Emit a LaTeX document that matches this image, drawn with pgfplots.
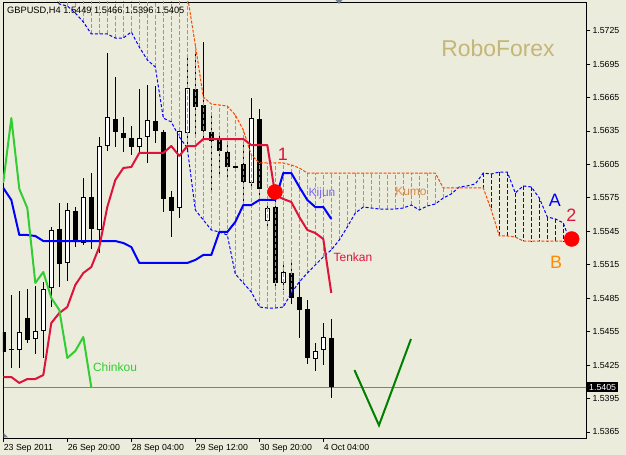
\documentclass[border=0pt]{standalone}
\usepackage{fontspec}
\setmainfont{Liberation Sans}
\usepackage{pgfplots}
\pgfplotsset{compat=1.18}
\usepackage{pgfplotstable}

\definecolor{bgc}{RGB}{236,236,220}
\definecolor{tenkanc}{RGB}{220,20,60}
\definecolor{kijunc}{RGB}{0,0,255}
\definecolor{chinkouc}{RGB}{50,205,50}
\definecolor{spanbc}{RGB}{255,69,0}
\definecolor{hatcho}{RGB}{244,118,80}
\definecolor{robo}{RGB}{196,182,118}
\definecolor{kijunlbl}{RGB}{123,104,238}
\definecolor{kumolbl}{RGB}{210,140,80}
\definecolor{vgreen}{RGB}{0,128,0}
\definecolor{pricegray}{RGB}{128,128,128}
\definecolor{bcol}{RGB}{255,140,0}
\definecolor{markgray}{RGB}{112,128,144}

\pgfplotsset{
  bars/.style={forget plot, only marks, mark=*, mark size=0pt,
    mark options={draw=none, fill=none},
    error bars/y dir=both, error bars/y explicit, error bars/error mark=none},
  ebs/.style={error bars/error bar style={#1}},
}

% i open high low close type(1=bull)
\pgfplotstableread{
i o h l c t
0 1.54547 1.54717 1.53847 1.54368 0
1 1.54394 1.54879 1.54224 1.54386 0
2 1.54386 1.54915 1.54224 1.54547 1
3 1.54673 1.54933 1.54448 1.54475 0
4 1.54484 1.54960 1.54350 1.54556 1
5 1.54556 1.54996 1.54314 1.54933 1
6 1.54942 1.55489 1.54771 1.55462 1
7 1.55471 1.55704 1.54951 1.55157 0
8 1.55166 1.55704 1.55004 1.55641 1
9 1.55632 1.55668 1.55309 1.55354 0
10 1.55345 1.55928 1.55327 1.55758 1
11 1.55758 1.55973 1.55291 1.55471 0
12 1.55462 1.56296 1.55256 1.56215 1
13 1.56215 1.57050 1.56170 1.56475 1
14 1.56458 1.56834 1.56206 1.56341 0
15 1.56332 1.56475 1.56162 1.56287 0
16 1.56287 1.56395 1.56135 1.56206 0
17 1.56206 1.56727 1.56162 1.56287 1
18 1.56296 1.56763 1.56063 1.56449 1
19 1.56440 1.56754 1.56242 1.56350 0
20 1.56341 1.56359 1.55623 1.55740 0
21 1.55758 1.55812 1.55399 1.55632 0
22 1.55659 1.56377 1.55570 1.56350 1
23 1.56332 1.57014 1.56162 1.56736 1
24 1.56727 1.57068 1.56287 1.56565 0
25 1.56583 1.57148 1.56269 1.56350 0
26 1.56341 1.56493 1.55794 1.56260 0
27 1.56278 1.56305 1.55928 1.56170 0
28 1.56162 1.56242 1.55910 1.56027 0
29 1.56036 1.56072 1.55982 1.56027 0
30 1.56054 1.56251 1.55704 1.55892 0
31 1.55883 1.56646 1.55821 1.56466 1
32 1.56458 1.56547 1.55776 1.55830 0
33 1.55543 1.55686 1.55462 1.55659 1
34 1.55668 1.55731 1.54951 1.54987 0
35 1.54987 1.55148 1.54924 1.55085 1
36 1.55076 1.55175 1.54798 1.54852 0
37 1.54861 1.55031 1.54493 1.54744 0
38 1.54753 1.54834 1.54260 1.54314 0
39 1.54305 1.54448 1.54197 1.54377 1
40 1.54386 1.54628 1.54251 1.54502 1
41 1.54490 1.54660 1.53960 1.54050 0
}\candles

\pgfplotstableread{
i v
0 1.54143
1 1.54143
2 1.54090
3 1.54125
4 1.54125
5 1.54161
6 1.54628
7 1.54717
8 1.54771
9 1.54969
10 1.55076
11 1.55130
12 1.55309
13 1.55668
14 1.55910
15 1.56018
16 1.56027
17 1.56153
18 1.56153
19 1.56153
20 1.56153
21 1.56215
22 1.56126
23 1.56215
24 1.56215
25 1.56278
26 1.56278
27 1.56278
28 1.56278
29 1.56278
30 1.56278
31 1.56224
32 1.56224
33 1.56224
34 1.55776
35 1.55740
36 1.55713
37 1.55579
38 1.55462
39 1.55435
40 1.55381
41 1.54897
}\tenkan

\pgfplotstableread{
i v
0 1.55839
1 1.55731
2 1.55417
3 1.55417
4 1.55408
5 1.55363
6 1.55363
7 1.55363
8 1.55363
9 1.55363
10 1.55363
11 1.55363
12 1.55363
13 1.55363
14 1.55363
15 1.55345
16 1.55309
17 1.55166
18 1.55166
19 1.55166
20 1.55166
21 1.55166
22 1.55166
23 1.55166
24 1.55193
25 1.55238
26 1.55238
27 1.55444
28 1.55444
29 1.55534
30 1.55686
31 1.55686
32 1.55731
33 1.55731
34 1.55731
35 1.55973
36 1.55973
37 1.55848
38 1.55731
39 1.55668
40 1.55668
41 1.55561
}\kijun

\pgfplotstableread{
i v
-1 1.56027
0 1.55892
1 1.56466
2 1.55830
3 1.55659
4 1.54987
5 1.55085
6 1.54852
7 1.54744
8 1.54314
9 1.54377
10 1.54502
11 1.54050
}\chinkou

% i spanA spanB
\pgfplotstableread{
i a b
6 1.57615 1.57704
7 1.57489 1.57704
8 1.57471 1.57704
9 1.57408 1.57704
10 1.57328 1.57704
11 1.57220 1.57704
12 1.57220 1.57704
13 1.57220 1.57704
14 1.57184 1.57704
15 1.57184 1.57704
16 1.57238 1.57704
17 1.57103 1.57704
18 1.56987 1.57704
19 1.56924 1.57704
20 1.56466 1.57704
21 1.56431 1.57704
22 1.56296 1.57704
23 1.56197 1.57570
24 1.55641 1.57121
25 1.55552 1.56655
26 1.55462 1.56592
27 1.55444 1.56583
28 1.55417 1.56574
29 1.55067 1.56493
30 1.54987 1.56359
31 1.54906 1.56135
32 1.54771 1.56063
33 1.54762 1.56063
34 1.54762 1.56063
35 1.54771 1.56063
36 1.54897 1.56045
37 1.54996 1.56018
38 1.55076 1.55973
39 1.55148 1.55973
40 1.55220 1.55973
41 1.55283 1.55973
42 1.55372 1.55973
43 1.55489 1.55973
44 1.55614 1.55973
45 1.55668 1.55973
46 1.55659 1.55973
47 1.55650 1.55973
48 1.55650 1.55973
49 1.55650 1.55973
50 1.55659 1.55973
51 1.55686 1.55973
52 1.55641 1.55973
53 1.55677 1.55973
54 1.55695 1.55973
55 1.55749 1.55839
56 1.55785 1.55839
57 1.55848 1.55839
58 1.55857 1.55839
59 1.55875 1.55839
60 1.55973 1.55839
61 1.55964 1.55641
62 1.55982 1.55408
63 1.55982 1.55408
64 1.55794 1.55399
65 1.55857 1.55363
66 1.55848 1.55363
67 1.55749 1.55363
68 1.55579 1.55363
69 1.55561 1.55363
70 1.55525 1.55363
71 1.55328 1.55363
}\kumo

% kumo hatch segments (B above A): x, y pairs separated by nan
\pgfplotstableread{
x y
7 1.57489
7 1.57704
7 nan
8 1.57471
8 1.57704
8 nan
9 1.57408
9 1.57704
9 nan
10 1.57328
10 1.57704
10 nan
11 1.57220
11 1.57704
11 nan
12 1.57220
12 1.57704
12 nan
13 1.57220
13 1.57704
13 nan
14 1.57184
14 1.57704
14 nan
15 1.57184
15 1.57704
15 nan
16 1.57238
16 1.57704
16 nan
17 1.57103
17 1.57704
17 nan
18 1.56987
18 1.57704
18 nan
19 1.56924
19 1.57704
19 nan
20 1.56466
20 1.57704
20 nan
21 1.56431
21 1.57704
21 nan
22 1.56296
22 1.57704
22 nan
23 1.56197
23 1.57570
23 nan
24 1.55641
24 1.57121
24 nan
25 1.55552
25 1.56655
25 nan
26 1.55462
26 1.56592
26 nan
27 1.55444
27 1.56583
27 nan
28 1.55417
28 1.56574
28 nan
29 1.55067
29 1.56493
29 nan
30 1.54987
30 1.56359
30 nan
31 1.54906
31 1.56135
31 nan
32 1.54771
32 1.56063
32 nan
33 1.54762
33 1.56063
33 nan
34 1.54762
34 1.56063
34 nan
35 1.54771
35 1.56063
35 nan
36 1.54897
36 1.56045
36 nan
37 1.54996
37 1.56018
37 nan
38 1.55076
38 1.55973
38 nan
39 1.55148
39 1.55973
39 nan
40 1.55220
40 1.55973
40 nan
41 1.55283
41 1.55973
41 nan
42 1.55372
42 1.55973
42 nan
43 1.55489
43 1.55973
43 nan
44 1.55614
44 1.55973
44 nan
45 1.55668
45 1.55973
45 nan
46 1.55659
46 1.55973
46 nan
47 1.55650
47 1.55973
47 nan
48 1.55650
48 1.55973
48 nan
49 1.55650
49 1.55973
49 nan
50 1.55659
50 1.55973
50 nan
51 1.55686
51 1.55973
51 nan
52 1.55641
52 1.55973
52 nan
53 1.55677
53 1.55973
53 nan
54 1.55695
54 1.55973
54 nan
55 1.55749
55 1.55839
55 nan
56 1.55785
56 1.55839
}\hatchO

% kumo hatch segments (A above B)
\pgfplotstableread{
x y
60 1.55973
60 1.55839
60 nan
61 1.55964
61 1.55641
61 nan
62 1.55982
62 1.55408
62 nan
63 1.55982
63 1.55408
63 nan
64 1.55794
64 1.55399
64 nan
65 1.55857
65 1.55363
65 nan
66 1.55848
66 1.55363
66 nan
67 1.55749
67 1.55363
67 nan
68 1.55579
68 1.55363
68 nan
69 1.55561
69 1.55363
69 nan
70 1.55525
70 1.55363
}\hatchB

\begin{document}
\begin{tikzpicture}
\fill[bgc] (0,0) rectangle (626bp,455bp);
\useasboundingbox (0,0) rectangle (626bp,455bp);
\begin{axis}[
  at={(3bp,17bp)}, anchor=south west,
  scale only axis, width=583bp, height=436bp,
  xmin=-0.04, xmax=72.84, ymin=1.53596, ymax=1.57507,
  axis line style={black, line width=0.8bp},
  xtick={0,8,16,24,32,40},
  xticklabels={23 Sep 2011, 26 Sep 20:00, 28 Sep 04:00, 29 Sep 12:00, 30 Sep 20:00, 4 Oct 04:00},
  ytick={1.5365,1.5395,1.5425,1.5455,1.5485,1.5515,1.5545,1.5575,1.5605,1.5635,1.5665,1.5695,1.5725},
  xtick pos=left, ytick pos=right, yticklabel pos=right,
  tick align=outside, major tick length=4bp,
  tick style={black, line width=0.8bp},
  yticklabel style={/pgf/number format/fixed, /pgf/number format/fixed zerofill,
    /pgf/number format/precision=4, /pgf/number format/assume math mode=true,
    font=\fontsize{8.8}{10}\selectfont, anchor=west, xshift=-1bp},
  xticklabel style={font=\fontsize{8.8}{10}\selectfont, anchor=north west, xshift=-3bp, yshift=1bp},
  scaled y ticks=false,
  extra y ticks={1.5405},
  extra y tick style={yticklabel style={fill=black, text=white, inner xsep=2bp, inner ysep=2bp, xshift=2bp}, major tick length=0bp},
  unbounded coords=jump,
  clip=true,
]
% current price line
\addplot[pricegray, line width=0.8bp, forget plot] coordinates {(-1,1.5405) (80,1.5405)};

% wicks
\addplot[color=black, bars, ebs={color=black, line width=1bp}]
  table[x=i, y expr={(\thisrow{h}+\thisrow{l})/2}, y error expr={(\thisrow{h}-\thisrow{l})/2}] {\candles};
% bodies (bear)
\addplot[color=black, restrict expr to domain={\thisrow{t}}{0:0}, bars, ebs={color=black, line width=5bp}]
  table[x=i, y expr={(\thisrow{o}+\thisrow{c})/2}, y error expr={max(abs(\thisrow{o}-\thisrow{c})/2,0.00006)}] {\candles};
% bodies (bull) outline
\addplot[color=black, restrict expr to domain={\thisrow{t}}{1:1}, bars, ebs={color=black, line width=5bp}]
  table[x=i, y expr={(\thisrow{o}+\thisrow{c})/2}, y error expr={abs(\thisrow{o}-\thisrow{c})/2}] {\candles};
% bodies (bull) fill
\addplot[color=white, restrict expr to domain={\thisrow{t}}{1:1}, bars, ebs={color=white, line width=3bp}]
  table[x=i, y expr={(\thisrow{o}+\thisrow{c})/2}, y error expr={abs(\thisrow{o}-\thisrow{c})/2-0.0000897}] {\candles};

% kumo hatching
\addplot[forget plot, hatcho, line width=1bp, dash pattern=on 4bp off 2bp] table[x=x, y=y] {\hatchO};
\addplot[forget plot, blue, line width=1bp, dash pattern=on 4bp off 2bp] table[x=x, y=y] {\hatchB};

% senkou spans
\addplot[blue, line width=1bp, dash pattern=on 3bp off 2bp, forget plot] table[x=i, y=a] {\kumo};
\addplot[spanbc, line width=1bp, dash pattern=on 3bp off 1.5bp, forget plot] table[x=i, y=b] {\kumo};

% lines
\addplot[kijunc, line width=2bp, line join=round, forget plot] table[x=i, y=v] {\kijun};
\addplot[tenkanc, line width=2bp, line join=round, forget plot] table[x=i, y=v] {\tenkan};
\addplot[chinkouc, line width=2bp, line join=round, forget plot] table[x=i, y=v] {\chinkou};

% projected V
\addplot[vgreen, line width=2bp, forget plot] coordinates {(43.9,1.54205) (46.96,1.53710) (50.96,1.54484)};

% signal dots
\addplot[only marks, mark=*, mark size=7.5bp, mark options={draw=red, fill=red}, forget plot]
  coordinates {(33.96,1.55803) (71.05,1.55381)};

% labels
\node[font=\fontsize{23}{26}\selectfont, text=robo] at (axis cs:61.84,1.57094) {RoboForex};
\node[font=\fontsize{18}{20}\selectfont, text=tenkanc] at (axis cs:34.96,1.56144) {1};
\node[font=\fontsize{18}{20}\selectfont, text=tenkanc] at (axis cs:71.0,1.55596) {2};
\node[font=\fontsize{18}{20}\selectfont, text=blue] at (axis cs:68.96,1.55731) {A};
\node[font=\fontsize{18}{20}\selectfont, text=bcol] at (axis cs:69.09,1.55175) {B};
\node[font=\fontsize{12}{14}\selectfont, text=kijunlbl] at (axis cs:39.84,1.55794) {Kijun};
\node[font=\fontsize{12}{14}\selectfont, text=kumolbl] at (axis cs:50.96,1.55812) {Kumo};
\node[font=\fontsize{12}{14}\selectfont, text=tenkanc] at (axis cs:43.71,1.55220) {Tenkan};
\node[font=\fontsize{12}{14}\selectfont, text=chinkouc] at (axis cs:13.96,1.54233) {Chinkou};
\end{axis}
\node[anchor=base west, inner sep=0pt, font=\fontsize{9.3}{11}\selectfont] at (7bp,441bp) {GBPUSD,H4\ 1.5449 1.5466 1.5396 1.5405};
\fill[markgray] (335.5bp,455bp) -- (342.5bp,455bp) -- (339bp,451bp) -- cycle;
\fill[markgray] (3.5bp,17.5bp) -- (3.5bp,22bp) -- (8bp,17.5bp) -- cycle;
\end{tikzpicture}
\end{document}
